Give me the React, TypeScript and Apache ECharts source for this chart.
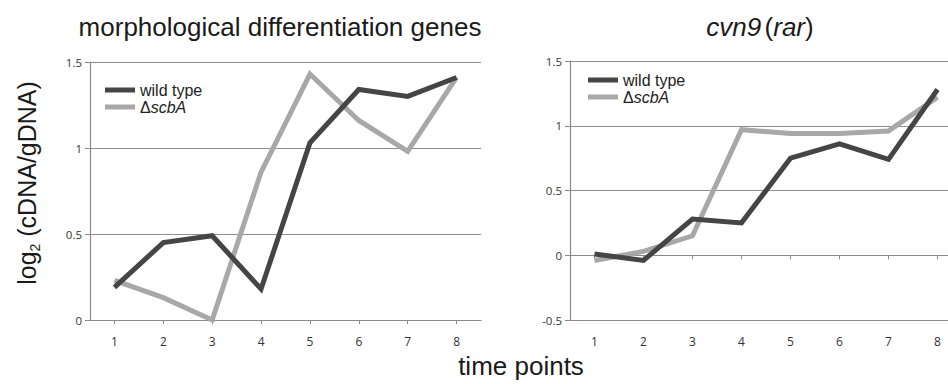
import React, { useEffect, useRef } from "react";
import * as echarts from "echarts";

const timePoints = ["1", "2", "3", "4", "5", "6", "7", "8"];
const seriesNames = ["wild type", "ΔscbA"];

// morphological differentiation genes
const morphWildType = [0.19, 0.45, 0.49, 0.18, 1.03, 1.34, 1.3, 1.41];
const morphScbA = [0.23, 0.13, 0.0, 0.86, 1.43, 1.16, 0.98, 1.41];

// cvn9 (rar)
const cvnWildType = [0.01, -0.04, 0.28, 0.25, 0.75, 0.86, 0.74, 1.28];
const cvnScbA = [-0.04, 0.03, 0.15, 0.97, 0.94, 0.94, 0.96, 1.22];

const leftYAxis = { min: 0, max: 1.5, interval: 0.5 };
const rightYAxis = { min: -0.5, max: 1.5, interval: 0.5 };

const DARK = "#454545";
const LIGHT = "#a8a8a8";
const GRID = "#8e8e8e";
const AXIS = "#8a8a8a";
const TICK_FONT = "Open Sans";
const TITLE_FONT = "Liberation Sans";

export default function App() {
  const ref = useRef<HTMLDivElement>(null);

  useEffect(() => {
    if (!ref.current) return;
    const chart = echarts.init(ref.current, undefined, { renderer: "svg" });

    const xAxisBase = (gridIndex: number) => ({
      type: "category",
      gridIndex,
      data: timePoints,
      boundaryGap: true,
      axisLine: { show: true, lineStyle: { color: AXIS, width: 1.2 } },
      axisTick: { show: true, alignWithLabel: true, length: 4, lineStyle: { color: AXIS } },
      axisLabel: { color: "#333", fontFamily: TICK_FONT, fontSize: 12, margin: 15 },
      splitLine: { show: false },
    });

    const yAxisBase = (gridIndex: number, cfg: { min: number; max: number; interval: number }) => ({
      type: "value",
      gridIndex,
      min: cfg.min,
      max: cfg.max,
      interval: cfg.interval,
      axisLine: { show: true, lineStyle: { color: AXIS, width: 1.2 } },
      axisTick: { show: true, length: 5, lineStyle: { color: AXIS } },
      axisLabel: {
        color: "#333",
        fontFamily: TICK_FONT,
        fontSize: 11.5,
        margin: 8,
        formatter: (v: number) => String(v),
      },
      splitLine: { show: true, lineStyle: { color: GRID, width: 1 } },
    });

    const lineSeries = (name: string, data: number[], color: string, idx: number) => ({
      name,
      type: "line",
      xAxisIndex: idx,
      yAxisIndex: idx,
      data,
      symbol: "none",
      lineStyle: { color, width: 5, join: "miter" },
      itemStyle: { color },
      z: name === "wild type" ? 3 : 2,
    });

    const legendBase = (left: number, top: number) => ({
      orient: "vertical",
      left,
      top,
      data: seriesNames,
      icon: "rect",
      itemWidth: 30,
      itemHeight: 5,
      itemGap: 1,
      padding: 0,
      selectedMode: false,
      formatter: (name: string) => (name === "ΔscbA" ? "{n|Δ}{i|scbA}" : "{n|" + name + "}"),
      textStyle: {
        rich: {
          n: { fontFamily: TITLE_FONT, fontSize: 16, color: "#222", lineHeight: 17 },
          i: { fontFamily: TITLE_FONT, fontSize: 16, fontStyle: "italic", color: "#222", lineHeight: 17 },
        },
      },
    });

    const option = {
      animation: false,
      backgroundColor: "#ffffff",
      grid: [
        { left: 90, top: 62, width: 391, height: 258, outerBoundsMode: "none", containLabel: false },
        { left: 570, top: 61, width: 392, height: 259, outerBoundsMode: "none", containLabel: false },
      ],
      xAxis: [xAxisBase(0), xAxisBase(1)],
      yAxis: [yAxisBase(0, leftYAxis), yAxisBase(1, rightYAxis)],
      legend: [legendBase(105, 82), legendBase(588, 72)],
      series: [
        lineSeries(seriesNames[1], morphScbA, LIGHT, 0),
        lineSeries(seriesNames[0], morphWildType, DARK, 0),
        lineSeries(seriesNames[1], cvnScbA, LIGHT, 1),
        lineSeries(seriesNames[0], cvnWildType, DARK, 1),
      ],
      graphic: [
        {
          type: "text",
          x: 280,
          y: 27,
          style: {
            text: "morphological differentiation genes",
            font: `26px "${TITLE_FONT}"`,
            fill: "#1a1a1a",
            textAlign: "center",
            textVerticalAlign: "middle",
          },
        },
        {
          type: "text",
          x: 760,
          y: 27,
          style: {
            text: "{i|cvn9} {n|(}{i|rar}{n|)}",
            textAlign: "center",
            textVerticalAlign: "middle",
            rich: {
              i: { fontFamily: TITLE_FONT, fontSize: 26, fontStyle: "italic", fill: "#1a1a1a" },
              n: { fontFamily: TITLE_FONT, fontSize: 26, fill: "#1a1a1a" },
            },
          },
        },
        {
          type: "text",
          x: 521,
          y: 366,
          style: {
            text: "time points",
            font: `26px "${TITLE_FONT}"`,
            fill: "#1a1a1a",
            textAlign: "center",
            textVerticalAlign: "middle",
          },
        },
        {
          type: "text",
          x: 27,
          y: 183,
          rotation: Math.PI / 2,
          style: {
            text: "{n|log}{s|2}{n| (cDNA/gDNA)}",
            textAlign: "center",
            textVerticalAlign: "middle",
            rich: {
              n: { fontFamily: TITLE_FONT, fontSize: 25, fill: "#1a1a1a", lineHeight: 30 },
              s: {
                fontFamily: TITLE_FONT,
                fontSize: 14,
                fill: "#1a1a1a",
                lineHeight: 30,
                verticalAlign: "bottom",
              },
            },
          },
        },
      ],
    };

    chart.setOption(option as any);
    return () => chart.dispose();
  }, []);

  return (
    <div
      ref={ref}
      style={{ position: "fixed", left: 0, top: 0, width: 948, height: 384, overflow: "hidden", background: "#fff" }}
    />
  );
}
